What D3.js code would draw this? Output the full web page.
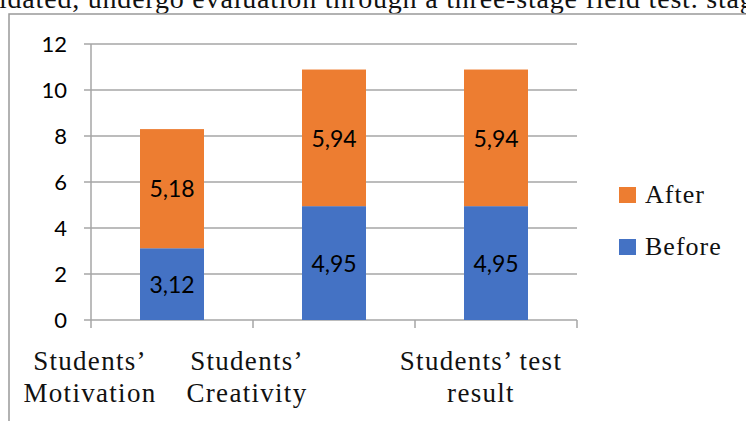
<!DOCTYPE html>
<html>
<head>
<meta charset="utf-8">
<script src="https://cdn.jsdelivr.net/npm/d3@7"></script>
<style>
  body { margin: 0; background: #fff; }
  svg { display: block; }
</style>
</head>
<body>
<svg width="746" height="421"></svg>
<script>
// chart data
var categories = ["Students’ Motivation", "Students’ Creativity", "Students’ test result"];
var labelLines = [["Students’", "Motivation"], ["Students’", "Creativity"], ["Students’ test", "result"]];
var before = [3.12, 4.95, 4.95];
var after = [5.18, 5.94, 5.94];
var seriesNames = ["After", "Before"];
var yTicks = [0, 2, 4, 6, 8, 10, 12];

var colors = { Before: "#4472c4", After: "#ed7d31" };

function main(){
    var svg = d3.select("svg");

    // page text above the figure, cut off at the top
    svg.append("text")
        .attr("x", -1).attr("y", 8)
        .attr("font-family", "Liberation Serif")
        .attr("font-size", 28)
        .attr("textLength", 768)
        .attr("lengthAdjust", "spacing")
        .attr("fill", "#111")
        .text("idated, undergo evaluation through a three-stage field test. stage");

    // figure frame
    svg.append("path")
        .attr("d", "M9,421V14H746")
        .attr("fill", "none")
        .attr("stroke", "#999")
        .attr("stroke-width", 1.5);

    var left = 91, right = 577, top = 44, bottom = 320;

    var xScale = d3.scaleBand().domain(categories).range([left, right])
        .paddingInner(0.605).paddingOuter(0.3025);
    var yScale = d3.scaleLinear().domain([0, 12]).range([bottom, top]);

    // gridlines + y ticks
    svg.append("g").selectAll("line").data(yTicks).enter().append("line")
        .attr("x1", left - 7).attr("x2", right)
        .attr("y1", function(d){ return yScale(d); })
        .attr("y2", function(d){ return yScale(d); })
        .attr("stroke", "#a6a6a6").attr("stroke-width", 1.5);

    svg.append("g").selectAll("text").data(yTicks).enter().append("text")
        .attr("x", 67)
        .attr("y", function(d){ return yScale(d); })
        .attr("dy", "0.36em")
        .attr("text-anchor", "end")
        .attr("font-family", "Lato")
        .attr("font-size", 22)
        .attr("fill", "#000")
        .text(function(d){ return d; });

    // axis lines
    svg.append("line")
        .attr("x1", left).attr("x2", left)
        .attr("y1", top).attr("y2", bottom + 8)
        .attr("stroke", "#a6a6a6").attr("stroke-width", 1.5);

    var step = xScale.step();
    var tickXs = categories.map(function(c, i){ return left + i * step; }).concat([right]);
    svg.append("g").selectAll("line").data(tickXs.slice(1)).enter().append("line")
        .attr("x1", function(d){ return d; }).attr("x2", function(d){ return d; })
        .attr("y1", bottom).attr("y2", bottom + 8)
        .attr("stroke", "#a6a6a6").attr("stroke-width", 1.5);

    // stacked bars
    var rows = categories.map(function(c, i){ return { cat: c, Before: before[i], After: after[i] }; });
    var stack = d3.stack().keys(["Before", "After"])(rows);

    var layers = svg.append("g").selectAll("g").data(stack).enter().append("g")
        .attr("fill", function(d){ return colors[d.key]; });

    layers.selectAll("rect").data(function(d){ return d; }).enter().append("rect")
        .attr("x", function(d){ return xScale(d.data.cat); })
        .attr("y", function(d){ return yScale(d[1]); })
        .attr("width", xScale.bandwidth())
        .attr("height", function(d){ return yScale(d[0]) - yScale(d[1]); });

    layers.selectAll("text").data(function(d){ return d.map(function(p){ return { p: p, key: d.key }; }); })
        .enter().append("text")
        .attr("x", function(d){ return xScale(d.p.data.cat) + xScale.bandwidth() / 2; })
        .attr("y", function(d){ return (yScale(d.p[0]) + yScale(d.p[1])) / 2; })
        .attr("dy", "0.38em")
        .attr("text-anchor", "middle")
        .attr("font-family", "Lato")
        .attr("font-size", 23)
        .attr("fill", "#000")
        .text(function(d){ return String(d.p.data[d.key]).replace(".", ","); });

    // category labels (Excel placed these off-centre)
    var labelShift = [-82, -87, -15];
    var cat = svg.append("g").selectAll("text").data(labelLines).enter().append("text")
        .attr("text-anchor", "middle")
        .attr("font-family", "Liberation Serif")
        .attr("font-size", 27)
        .attr("letter-spacing", 1.3)
        .attr("fill", "#111");
    cat.selectAll("tspan").data(function(d, i){ return d.map(function(t){ return { t: t, i: i }; }); })
        .enter().append("tspan")
        .attr("x", function(d){ return xScale(categories[d.i]) + xScale.bandwidth() / 2 + labelShift[d.i]; })
        .attr("y", function(d, j){ return 370 + j * 32; })
        .text(function(d){ return d.t; });

    // legend
    var legend = svg.append("g").selectAll("g").data(seriesNames).enter().append("g")
        .attr("transform", function(d, i){ return "translate(619," + (187 + i * 52) + ")"; });
    legend.append("rect")
        .attr("width", 17).attr("height", 16)
        .attr("fill", function(d){ return colors[d]; });
    legend.append("text")
        .attr("x", 26).attr("y", 16)
        .attr("font-family", "Liberation Serif")
        .attr("font-size", 26)
        .attr("letter-spacing", 1)
        .attr("fill", "#111")
        .text(function(d){ return d; });
}
main();
</script>
</body>
</html>
